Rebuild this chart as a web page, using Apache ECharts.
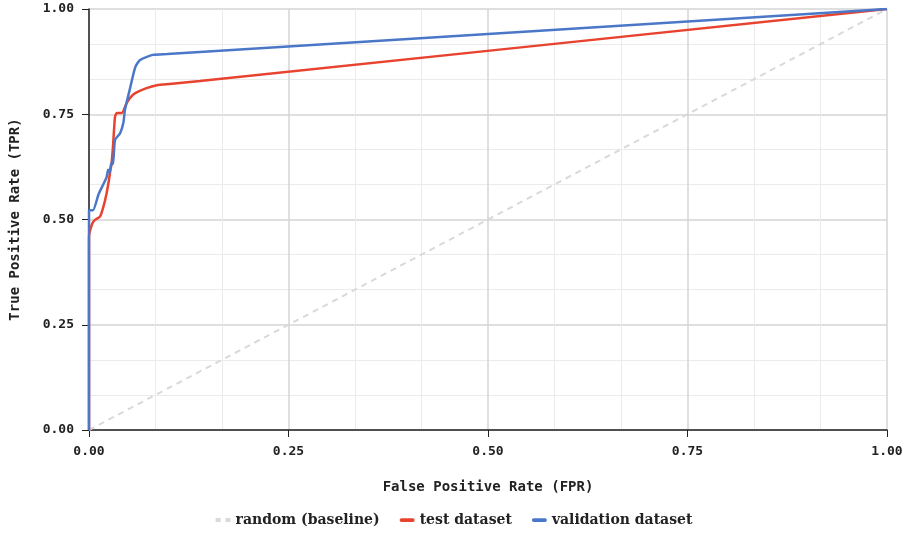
<!DOCTYPE html>
<html style="height: 100%">
<head>
    <meta charset="UTF-8">
    <script src="https://cdn.jsdelivr.net/npm/echarts@6/dist/echarts.min.js"></script>
</head>
<body style="height: 100%; margin: 0; background: #fff">
    <div id="main" style="width: 908px; height: 533px;"></div>
    <script type="text/javascript">
        // ROC curve points, [FPR, TPR]
        var baselinePoints = [[0, 0], [1, 1]];
        var testPoints = [
            [0, 0], [0, 0.459], [0.004, 0.49], [0.0075, 0.499], [0.0138, 0.507],
            [0.018, 0.53], [0.022, 0.562], [0.025, 0.594], [0.027, 0.62],
            [0.028, 0.628], [0.030, 0.672], [0.0326, 0.744], [0.035, 0.753],
            [0.041, 0.753], [0.047, 0.776], [0.052, 0.79], [0.058, 0.800],
            [0.072, 0.812], [0.085, 0.819], [0.101, 0.822], [0.139, 0.829], [1, 1]
        ];
        var validationPoints = [
            [0, 0], [0, 0.522], [0.005, 0.522], [0.012, 0.56], [0.022, 0.6],
            [0.024, 0.618], [0.026, 0.612], [0.028, 0.634], [0.030, 0.632],
            [0.0326, 0.689], [0.039, 0.705], [0.043, 0.729], [0.045, 0.76],
            [0.051, 0.808], [0.058, 0.862], [0.064, 0.879], [0.080, 0.891],
            [0.098, 0.893], [0.139, 0.898], [1, 1]
        ];
        var seriesNames = ['random (baseline)', 'test dataset', 'validation dataset'];
        var seriesColors = ['#d9d9d9', '#e8432f', '#4a77c8'];

        var myChart = echarts.init(document.getElementById('main'));

        var monoFont = 'DejaVu Sans Mono';
        var valueAxis = function (name) {
            return {
                type: 'value',
                min: 0,
                max: 1,
                interval: 0.25,
                name: name,
                nameLocation: 'middle',
                nameTextStyle: { fontFamily: monoFont, fontSize: 14, color: '#222', fontWeight: 'bold' },
                axisLine: { show: true, lineStyle: { color: '#222', width: 1.5 } },
                axisTick: { show: true, length: 7, lineStyle: { color: '#222' } },
                axisLabel: {
                    fontFamily: monoFont, fontSize: 13, color: '#222', fontWeight: 'bold',
                    formatter: function (v) { return v.toFixed(2); }
                },
                splitLine: { show: true, lineStyle: { color: '#d4d4d4', width: 1.5 } },
                minorTick: { show: false, splitNumber: 3 },
                minorSplitLine: { show: true, lineStyle: { color: '#ebebeb', width: 1 } }
            };
        };

        var xAxis = valueAxis('False Positive Rate (FPR)');
        xAxis.nameGap = 50;
        xAxis.axisLabel.margin = 15;
        var yAxis = valueAxis('True Positive Rate (TPR)');
        yAxis.nameGap = 67;
        yAxis.axisLabel.margin = 15;

        // short bar icons for the legend; the baseline one is dashed
        var lineIcon = 'path://M2,0H14A2,2 0 0 1 14,4H2A2,2 0 0 1 2,0Z';
        var dashIcon = 'path://M0,0H5V4H0Z M10,0H15V4H10Z';

        var option = {
            animation: false,
            grid: { left: 89, right: 21, top: 9, bottom: 103, outerBoundsMode: 'none', containLabel: false },
            legend: {
                bottom: 1,
                left: 'center',
                itemWidth: 15,
                itemHeight: 4,
                itemGap: 20,
                textStyle: { fontFamily: 'DejaVu Serif', fontSize: 14, color: '#222', fontWeight: 'bold' },
                data: [
                    { name: seriesNames[0], icon: dashIcon },
                    { name: seriesNames[1], icon: lineIcon },
                    { name: seriesNames[2], icon: lineIcon }
                ]
            },
            xAxis: xAxis,
            yAxis: yAxis,
            series: [
                {
                    name: seriesNames[0], type: 'line', data: baselinePoints,
                    symbol: 'none', color: seriesColors[0],
                    lineStyle: { width: 2, type: [6, 5], color: seriesColors[0] }
                },
                {
                    name: seriesNames[1], type: 'line', data: testPoints,
                    symbol: 'none', smooth: 0.2, color: seriesColors[1],
                    lineStyle: { width: 2.5, color: seriesColors[1] }
                },
                {
                    name: seriesNames[2], type: 'line', data: validationPoints,
                    symbol: 'none', smooth: 0.2, color: seriesColors[2],
                    lineStyle: { width: 2.5, color: seriesColors[2] }
                }
            ]
        };

        myChart.setOption(option);
    </script>
</body>
</html>
